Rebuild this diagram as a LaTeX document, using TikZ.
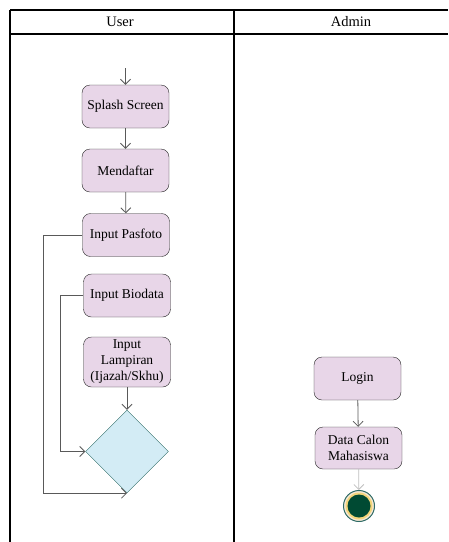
\documentclass[tikz,border=0pt]{standalone}
\usepackage{fontspec}
\setmainfont{Liberation Serif}
\usetikzlibrary{arrows.meta,shapes.geometric}

\definecolor{actfill}{HTML}{E8D6E8}
\definecolor{decfill}{HTML}{D3ECF5}
\definecolor{decline}{HTML}{2E6B66}
\definecolor{endgreen}{HTML}{004A33}
\definecolor{endbeige}{HTML}{F6E8D6}
\definecolor{endyellow}{HTML}{F2D57A}

\tikzset{
  act/.style={draw=black!85, fill=actfill, rounded corners=8pt, minimum width=87pt,
    minimum height=43pt, align=center, inner sep=1pt,
    font=\fontsize{13.5}{16}\selectfont},
  flow/.style={draw=black!65, line width=0.8pt, -{Straight Barb[length=5pt,width=10pt]}},
  lane/.style={line width=1.1pt}
}

\begin{document}
\begin{tikzpicture}[x=1pt,y=-1pt]
  \useasboundingbox (0,0) rectangle (449,542);

  % swimlanes
  \draw[lane] (10,10) -- (448,10);
  \draw[lane] (10,34) -- (448,34);
  \draw[lane] (10,10) -- (10,542);
  \draw[lane] (234,10) -- (234,542);
  \node[font=\fontsize{14.5}{16}\selectfont] (user) at (120,22) {User};
  \node[font=\fontsize{14.5}{16}\selectfont] (admin) at (351,22) {Admin};

  % user lane
  \coordinate (start) at (125.5,68);
  \node[act] (splash) at (125.5,106.5) {Splash Screen};
  \node[act] (daftar) at (125.5,170.5) {Mendaftar};
  \node[act] (foto) at (126,235) {Input Pasfoto};
  \node[act] (bio) at (127,295.5) {Input Biodata};
  \node[act, minimum height=50pt] (lamp) at (127,362) {Input\\Lampiran\\(Ijazah/Skhu)};
  \node[diamond, aspect=1, minimum size=83pt, inner sep=0pt, fill=decfill, draw=decline] (cek) at (127,451.5) {};

  \draw[flow] (start) -- (splash);
  \draw[flow] (splash) -- (daftar);
  \draw[flow] (daftar) -- (foto);
  \draw[flow] (foto.west) -- ++(-39,0) |- (cek.south);
  \draw[flow] (bio.west) -- ++(-22.5,0) |- (cek.west);
  \draw[flow] (lamp) -- (cek);

  % admin lane
  \node[act] (login) at (357.5,378.5) {Login};
  \node[act, minimum height=42pt] (data) at (358.5,448) {Data Calon\\Mahasiswa};
  \node[circle, draw=decline, line width=1pt, fill=endbeige, minimum size=31pt, inner sep=0pt] (final) at (359,506) {};
  \fill[endyellow] (final.center) circle (13.5);
  \fill[endgreen] (final.center) circle (11.5);

  \draw[flow] (login) -- (data);
  \draw[flow, draw=black!25] (data) -- (final);
\end{tikzpicture}
\end{document}
